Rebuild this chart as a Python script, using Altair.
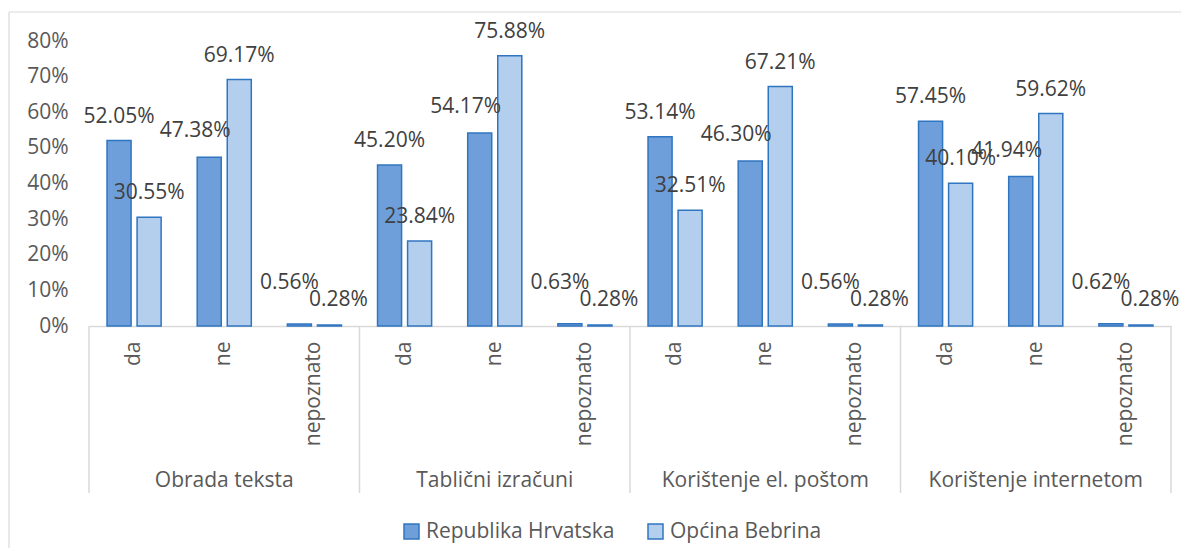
import altair as alt
import pandas as pd

groups = ["Obrada teksta", "Tablični izračuni", "Korištenje el. poštom", "Korištenje internetom"]
answers = ["da", "ne", "nepoznato"]
series = ["Republika Hrvatska", "Općina Bebrina"]
hrvatska = [52.05, 47.38, 0.56, 45.20, 54.17, 0.63, 53.14, 46.30, 0.56, 57.45, 41.94, 0.62]
bebrina = [30.55, 69.17, 0.28, 23.84, 75.88, 0.28, 32.51, 67.21, 0.28, 40.10, 59.62, 0.28]
y_ticks = [0, 10, 20, 30, 40, 50, 60, 70, 80]

FONT = "Open Sans"
FS = 21
W, H = 1082, 285
PAD_L, PAD_T = 81, 33

rows = []
slots = []
for gi, g in enumerate(groups):
    for ai, a in enumerate(answers):
        slot = f"{gi}|{a}"
        slots.append(slot)
        k = gi * 3 + ai
        rows.append(dict(slot=slot, group=g, answer=a, series=series[0], value=hrvatska[k]))
        rows.append(dict(slot=slot, group=g, answer=a, series=series[1], value=bebrina[k]))
df = pd.DataFrame(rows)
df["label"] = df["value"].map(lambda v: f"{v:.2f}%")

grp_df = pd.DataFrame({
    "group": groups,
    "mid": [f"{i}|ne" for i in range(len(groups))],
    "first": [f"{i}|da" for i in range(len(groups))],
})
end_df = pd.DataFrame({"slot": [slots[-1]]})

xscale = alt.Scale(domain=slots, paddingInner=0, paddingOuter=0)
xoff = alt.XOffset("series:N", scale=alt.Scale(domain=series, paddingInner=0.2, paddingOuter=0.6))
yscale = alt.Scale(domain=[0, 80])

x_axis = alt.Axis(labelExpr="split(datum.value, '|')[1]", labelAngle=-90,
                  labelAlign="right", labelBaseline="middle",
                  ticks=False, tickSize=0, labelPadding=15,
                  domainColor="#D9D9D9", domainWidth=1.5,
                  labelFont=FONT, labelFontSize=FS, labelColor="#595959")
y_axis = alt.Axis(values=y_ticks, labelExpr="datum.value + '%'", grid=False,
                  domain=False, ticks=False, labelPadding=21,
                  labelFont=FONT, labelFontSize=FS, labelColor="#595959")

bars = alt.Chart(df).mark_bar(stroke="#2F75C0", strokeWidth=1.5).encode(
    x=alt.X("slot:N", scale=xscale, sort=slots, title=None, axis=x_axis),
    xOffset=xoff,
    y=alt.Y("value:Q", scale=yscale, title=None, axis=y_axis),
    color=alt.Color("series:N", scale=alt.Scale(domain=series, range=["#6F9FDA", "#B4CFEE"]),
                    legend=alt.Legend(title=None, orient="none", legendX=312, legendY=480,
                                      direction="horizontal", symbolType="square",
                                      symbolSize=225, symbolStrokeColor="#2F75C0",
                                      symbolStrokeWidth=1.5, labelFont=FONT,
                                      labelFontSize=FS, labelColor="#595959",
                                      labelLimit=400, labelOffset=4, columnPadding=30)),
)


def label_layer(data_filter, dx, dy):
    return alt.Chart(df).transform_filter(data_filter).mark_text(
        dx=dx, dy=dy, baseline="middle", font=FONT, fontSize=FS, color="#404040"
    ).encode(
        x=alt.X("slot:N", scale=xscale, sort=slots, title=None, axis=x_axis),
        xOffset=xoff,
        y=alt.Y("value:Q", scale=yscale, title=None, axis=y_axis),
        text="label:N",
    )


HR, BB = series
labels_da = label_layer("datum.answer == 'da'", 0, -24)
labels_ne_bb = label_layer(f"datum.answer == 'ne' && datum.series == '{BB}'", 0, -24)
labels_ne_hr = label_layer(f"datum.answer == 'ne' && datum.series == '{HR}'", -14, -26)
labels_np_hr = label_layer(f"datum.answer == 'nepoznato' && datum.series == '{HR}'", -10, -41)
labels_np_bb = label_layer(f"datum.answer == 'nepoznato' && datum.series == '{BB}'", 9, -25)

group_text = alt.Chart(grp_df).mark_text(baseline="middle", font=FONT, fontSize=FS,
                                         color="#595959").encode(
    x=alt.X("mid:N", scale=xscale, title=None, axis=x_axis),
    y=alt.value(H + 155),
    text="group:N",
)

seps = alt.Chart(grp_df).mark_rule(color="#D9D9D9", strokeWidth=1.5).encode(
    x=alt.X("first:N", scale=xscale, title=None, axis=x_axis, bandPosition=0),
    y=alt.value(H),
    y2=alt.value(H + 167),
)

end_sep = alt.Chart(end_df).mark_rule(color="#D9D9D9", strokeWidth=1.5).encode(
    x=alt.X("slot:N", scale=xscale, title=None, axis=x_axis, bandPosition=1),
    y=alt.value(H),
    y2=alt.value(H + 167),
)

# light chart-area frame (left and top edges, as in the reference)
frame_left = alt.Chart(end_df).mark_rule(color="#D9D9D9", strokeWidth=1.2).encode(
    x=alt.value(-PAD_L + 1), y=alt.value(-PAD_T + 4), y2=alt.value(H + 230),
)
frame_top = alt.Chart(end_df).mark_rule(color="#D9D9D9", strokeWidth=1.2).encode(
    x=alt.value(-PAD_L + 1), x2=alt.value(W + 20), y=alt.value(-PAD_T + 4),
)

chart = alt.layer(frame_left, frame_top, bars, labels_da, labels_ne_bb, labels_ne_hr,
                  labels_np_hr, labels_np_bb, seps, end_sep, group_text).properties(
    width=W, height=H,
    autosize=alt.AutoSizeParams(type="none"),
    padding={"left": PAD_L, "top": PAD_T, "right": 10, "bottom": 222},
).configure_view(stroke=None)

chart.save("out.html", embed_options={"renderer": "svg", "actions": False})
